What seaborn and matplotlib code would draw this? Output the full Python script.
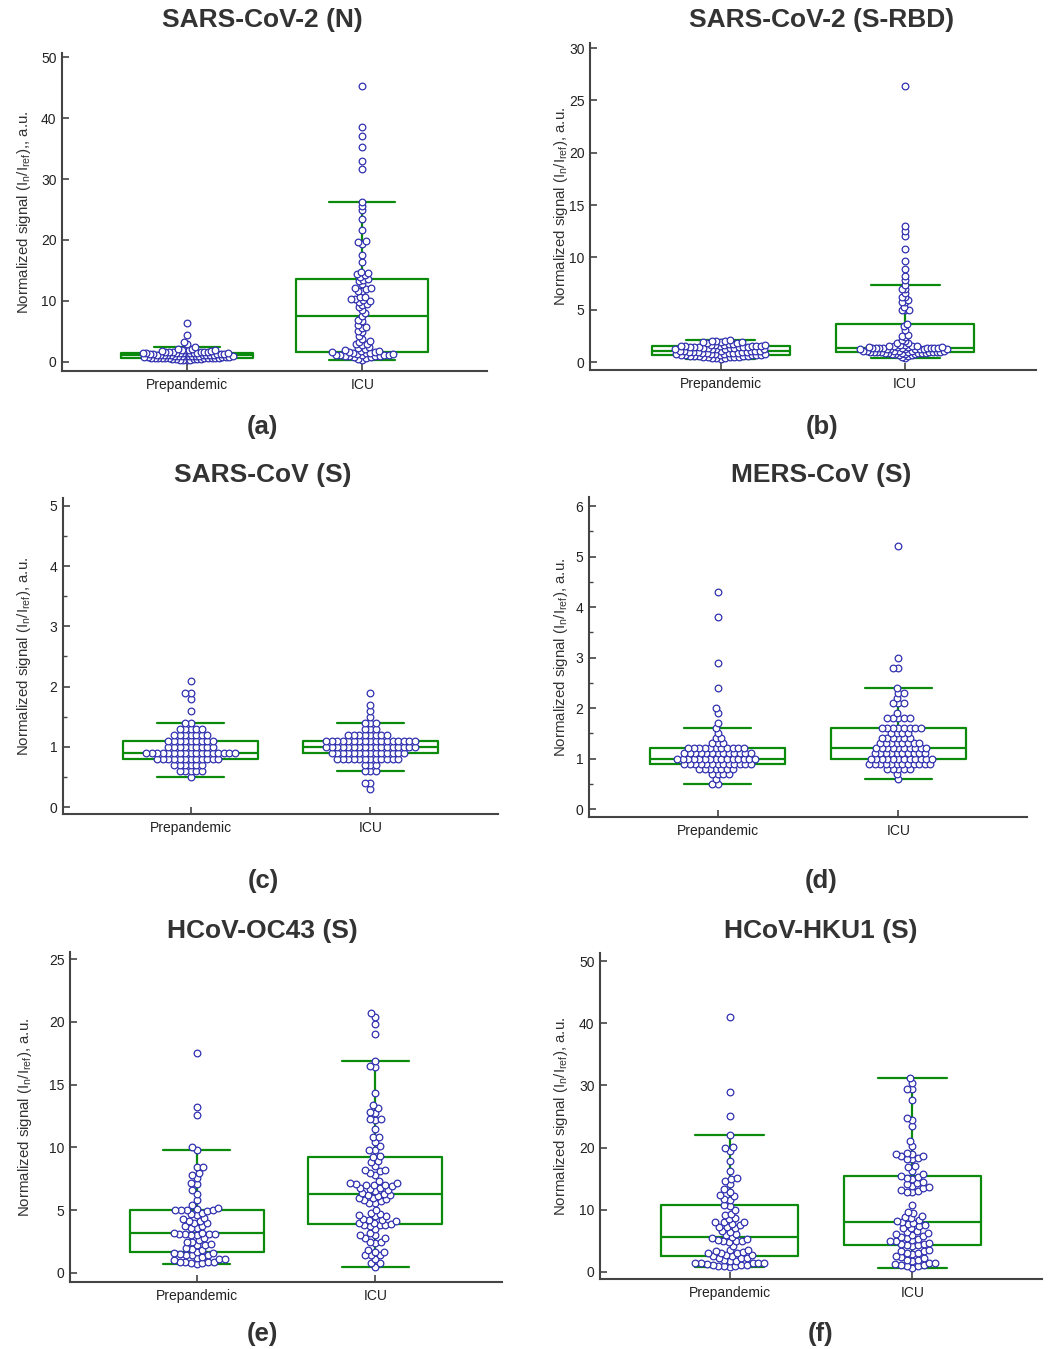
import matplotlib
matplotlib.use("Agg")
import matplotlib.pyplot as plt
import numpy as np
import pandas as pd
import seaborn as sns
from matplotlib.ticker import MultipleLocator

# ---------------- data ----------------
groups = ["Prepandemic", "ICU"]
titles = ["SARS-CoV-2 (N)", "SARS-CoV-2 (S-RBD)", "SARS-CoV (S)",
          "MERS-CoV (S)", "HCoV-OC43 (S)", "HCoV-HKU1 (S)"]
panel_labels = ["(a)", "(b)", "(c)", "(d)", "(e)", "(f)"]
ylabel_a = r"Normalized signal (I$_\mathregular{n}$/I$_\mathregular{ref}$),, a.u."
ylabel = r"Normalized signal (I$_\mathregular{n}$/I$_\mathregular{ref}$), a.u."

a_prep = [0.4, 0.4, 0.4, 0.4, 0.5, 0.5, 0.5, 0.5, 0.5, 0.6, 0.6, 0.6, 0.6, 0.6,
          0.7, 0.7, 0.7, 0.7, 0.7, 0.7, 0.8, 0.8, 0.8, 0.8, 0.8, 0.9, 0.9, 0.9,
          0.9, 1.0, 1.0, 1.0, 1.0, 1.0, 1.1, 1.1, 1.1, 1.1, 1.1, 1.2, 1.2, 1.2,
          1.2, 1.3, 1.3, 1.3, 1.3, 1.3, 1.4, 1.4, 1.4, 1.4, 1.5, 1.5, 1.5, 1.5,
          1.5, 1.5, 1.6, 1.6, 1.6, 1.7, 1.7, 1.7, 1.8, 1.8, 1.9, 1.9, 2.0, 2.0,
          2.1, 2.2, 2.4, 2.9, 3.3, 4.4, 6.4]
a_icu = [0.4, 0.5, 0.7, 0.8, 0.8, 0.9, 1.0, 1.0, 1.0, 1.1, 1.1, 1.2, 1.2, 1.2,
         1.3, 1.3, 1.4, 1.5, 1.5, 1.6, 1.6, 1.7, 1.8, 1.8, 1.9, 2.1, 2.3, 2.4,
         2.8, 2.9, 3.0, 3.3, 3.4, 3.8, 4.2, 4.9, 5.1, 5.6, 5.8, 6.0, 6.8, 6.9,
         7.5, 8.0, 8.6, 9.0, 9.4, 9.5, 9.8, 10.0, 10.1, 10.3, 10.4, 10.6, 10.7,
         11.6, 11.7, 12.0, 12.1, 12.2, 12.8, 13.3, 13.5, 13.6, 14.0, 14.2, 14.5,
         14.6, 14.7, 16.4, 17.6, 19.4, 19.7, 19.9, 21.7, 23.4, 24.9, 25.6, 26.3,
         31.6, 33.0, 35.3, 37.0, 38.5, 45.2]
b_prep = [0.3, 0.4, 0.4, 0.4, 0.5, 0.5, 0.5, 0.5, 0.5, 0.6, 0.6, 0.6, 0.6, 0.6,
          0.7, 0.7, 0.7, 0.7, 0.7, 0.7, 0.8, 0.8, 0.8, 0.8, 0.8, 0.9, 0.9, 0.9,
          0.9, 0.9, 1.0, 1.0, 1.0, 1.0, 1.0, 1.1, 1.1, 1.1, 1.1, 1.1, 1.1, 1.2,
          1.2, 1.2, 1.2, 1.2, 1.3, 1.3, 1.3, 1.3, 1.4, 1.4, 1.4, 1.4, 1.4, 1.4,
          1.5, 1.5, 1.5, 1.5, 1.5, 1.5, 1.6, 1.6, 1.6, 1.6, 1.7, 1.7, 1.8, 1.8,
          1.9, 1.9, 1.9, 2.0, 2.0, 2.0, 2.1]
b_icu = [0.4, 0.5, 0.6, 0.7, 0.7, 0.8, 0.8, 0.8, 0.8, 0.9, 0.9, 0.9, 0.9, 0.9,
         0.9, 1.0, 1.0, 1.0, 1.0, 1.0, 1.0, 1.0, 1.0, 1.0, 1.1, 1.1, 1.1, 1.1,
         1.1, 1.1, 1.2, 1.2, 1.2, 1.2, 1.2, 1.2, 1.2, 1.2, 1.3, 1.3, 1.3, 1.3,
         1.3, 1.3, 1.3, 1.3, 1.3, 1.4, 1.4, 1.4, 1.4, 1.5, 1.5, 1.5, 1.5, 1.6,
         1.6, 1.8, 1.8, 2.0, 2.1, 2.4, 2.5, 2.6, 3.1, 3.4, 3.6, 5.0, 5.0, 5.0,
         5.3, 5.7, 5.7, 5.9, 6.2, 6.2, 6.6, 7.0, 7.0, 7.4, 7.8, 8.2, 8.9, 9.7,
         10.8, 12.0, 12.5, 13.0, 26.4]
c_prep = [0.5, 0.6, 0.6, 0.6, 0.6, 0.6, 0.7, 0.7, 0.7, 0.7, 0.7, 0.7,
          0.8, 0.8, 0.8, 0.8, 0.8, 0.8, 0.8, 0.8, 0.8, 0.8, 0.8, 0.8,
          0.9, 0.9, 0.9, 0.9, 0.9, 0.9, 0.9, 0.9, 0.9, 0.9, 0.9, 0.9, 0.9, 0.9,
          0.9, 0.9, 0.9, 1.0, 1.0, 1.0, 1.0, 1.0, 1.0, 1.0, 1.0, 1.0,
          1.1, 1.1, 1.1, 1.1, 1.1, 1.1, 1.1, 1.1, 1.1, 1.2, 1.2, 1.2, 1.2, 1.2,
          1.2, 1.2, 1.3, 1.3, 1.3, 1.3, 1.3, 1.4, 1.4, 1.6, 1.8, 1.9, 1.9, 2.1]
c_icu = [0.3, 0.4, 0.4, 0.6, 0.6, 0.6, 0.7, 0.7, 0.7,
         0.8, 0.8, 0.8, 0.8, 0.8, 0.8, 0.8, 0.8, 0.8, 0.8, 0.8, 0.8,
         0.9, 0.9, 0.9, 0.9, 0.9, 0.9, 0.9, 0.9, 0.9, 0.9, 0.9, 0.9, 0.9, 0.9,
         1.0, 1.0, 1.0, 1.0, 1.0, 1.0, 1.0, 1.0, 1.0, 1.0, 1.0, 1.0, 1.0, 1.0,
         1.0, 1.0, 1.0, 1.1, 1.1, 1.1, 1.1, 1.1, 1.1, 1.1, 1.1, 1.1, 1.1, 1.1,
         1.1, 1.1, 1.1, 1.1, 1.1, 1.1, 1.2, 1.2, 1.2, 1.2, 1.2, 1.2, 1.2, 1.2,
         1.3, 1.3, 1.3, 1.4, 1.4, 1.4, 1.5, 1.6, 1.7, 1.9]
d_prep = [0.5, 0.5, 0.6, 0.7, 0.7, 0.7, 0.7, 0.8, 0.8, 0.8, 0.8, 0.8, 0.8, 0.8,
          0.9, 0.9, 0.9, 0.9, 0.9, 0.9, 0.9, 0.9, 0.9, 0.9, 0.9, 0.9, 0.9,
          1.0, 1.0, 1.0, 1.0, 1.0, 1.0, 1.0, 1.0, 1.0, 1.0, 1.0, 1.0, 1.0, 1.0,
          1.0, 1.1, 1.1, 1.1, 1.1, 1.1, 1.1, 1.1, 1.1, 1.1, 1.1, 1.1, 1.1, 1.1,
          1.2, 1.2, 1.2, 1.2, 1.2, 1.2, 1.2, 1.2, 1.2, 1.2, 1.2, 1.3, 1.3, 1.3,
          1.4, 1.4, 1.5, 1.6, 1.7, 1.9, 2.0, 2.4, 2.9, 3.8, 4.3]
d_icu = [0.6, 0.7, 0.8, 0.8, 0.8, 0.8, 0.8,
         0.9, 0.9, 0.9, 0.9, 0.9, 0.9, 0.9, 0.9, 0.9, 0.9, 0.9, 0.9,
         1.0, 1.0, 1.0, 1.0, 1.0, 1.0, 1.0, 1.0, 1.0, 1.0, 1.0, 1.0,
         1.1, 1.1, 1.1, 1.1, 1.1, 1.1, 1.1, 1.1, 1.1, 1.1,
         1.2, 1.2, 1.2, 1.2, 1.2, 1.2, 1.2, 1.2, 1.2, 1.2,
         1.3, 1.3, 1.3, 1.3, 1.3, 1.3, 1.3, 1.3, 1.4, 1.4, 1.4, 1.4, 1.4, 1.4,
         1.5, 1.5, 1.5, 1.5, 1.6, 1.6, 1.6, 1.6, 1.6, 1.6, 1.6, 1.6,
         1.8, 1.8, 1.8, 1.8, 1.8, 1.9, 2.1, 2.1, 2.1, 2.2, 2.3, 2.3, 2.4,
         2.8, 2.8, 3.0, 5.2]
e_prep = [0.7, 0.8, 0.8, 0.9, 0.9, 0.9, 0.9, 1.0, 1.1, 1.1, 1.2, 1.3, 1.4, 1.4,
          1.4, 1.5, 1.6, 1.6, 1.7, 1.8, 1.9, 2.0, 2.2, 2.2, 2.3, 2.5, 2.5, 2.6,
          2.8, 3.0, 3.0, 3.1, 3.1, 3.1, 3.1, 3.2, 3.2, 3.6, 3.6, 3.7, 3.7, 4.0,
          4.0, 4.1, 4.1, 4.3, 4.4, 4.6, 4.7, 4.8, 4.9, 5.0, 5.0, 5.0, 5.0, 5.1,
          5.2, 5.4, 5.8, 6.3, 6.6, 7.1, 7.2, 7.6, 7.8, 8.0, 8.4, 8.4, 9.8, 10.0,
          12.6, 13.2, 17.5]
e_icu = [0.5, 0.8, 0.8, 1.1, 1.4, 1.4, 1.4, 1.7, 1.7, 1.8, 2.4, 2.5, 2.5, 2.8,
         2.8, 3.0, 3.0, 3.2, 3.5, 3.7, 3.8, 3.8, 3.8, 3.9, 4.0, 4.0, 4.1, 4.2,
         4.2, 4.3, 4.5, 4.5, 4.6, 4.7, 4.8, 5.0, 5.6, 5.6, 5.7, 5.8, 5.9, 6.0,
         6.0, 6.1, 6.2, 6.2, 6.3, 6.4, 6.5, 6.6, 6.7, 6.8, 6.8, 6.9, 7.0, 7.0,
         7.0, 7.1, 7.2, 7.2, 7.3, 7.8, 8.0, 8.1, 8.2, 8.2, 8.5, 8.8, 8.9, 9.2,
         9.3, 9.8, 9.8, 10.1, 10.4, 10.8, 10.8, 11.5, 12.2, 12.3, 12.3, 12.7,
         12.8, 13.1, 13.4, 14.3, 16.4, 16.5, 16.9, 19.0, 19.8, 20.4, 20.7]
f_prep = [0.8, 0.9, 0.9, 0.9, 1.1, 1.2, 1.2, 1.3, 1.4, 1.4, 1.4, 1.5, 1.5, 1.8,
          1.8, 1.9, 2.2, 2.3, 2.3, 2.5, 2.6, 2.7, 2.7, 3.0, 3.0, 3.1, 3.2, 3.4,
          3.5, 3.6, 4.2, 4.8, 4.9, 5.0, 5.0, 5.2, 5.3, 5.4, 5.6, 5.9, 6.1, 6.5,
          6.6, 7.0, 7.2, 7.3, 7.6, 7.7, 8.0, 8.0, 8.1, 8.5, 8.6, 9.2, 9.4, 10.0,
          10.6, 10.8, 11.6, 11.8, 12.2, 12.4, 12.9, 13.3, 14.1, 14.7, 15.0, 15.1,
          16.3, 17.8, 19.4, 19.9, 20.1, 22.0, 25.0, 29.0, 41.0]
f_icu = [0.7, 1.0, 1.0, 1.1, 1.1, 1.3, 1.5, 1.5, 1.8, 1.9, 2.0, 2.2, 2.4, 2.5,
         2.9, 3.0, 3.1, 3.3, 3.4, 3.5, 4.2, 4.3, 4.4, 4.5, 4.5, 4.7, 4.9, 5.0,
         5.1, 5.3, 5.5, 5.6, 5.8, 6.0, 6.1, 6.2, 6.4, 6.6, 7.0, 7.1, 7.4, 7.6,
         7.7, 7.9, 8.0, 8.2, 8.3, 8.7, 8.8, 9.0, 9.5, 9.6, 10.8, 12.8, 12.9,
         13.0, 13.2, 13.5, 13.6, 13.8, 14.1, 14.3, 14.4, 15.0, 15.1, 15.3, 15.5,
         15.7, 16.2, 16.8, 17.0, 18.1, 18.2, 18.4, 18.6, 18.7, 19.0, 19.0, 19.2,
         20.2, 21.0, 23.4, 24.4, 24.8, 27.6, 29.4, 29.5, 30.4, 31.2]

series = [(a_prep, a_icu), (b_prep, b_icu), (c_prep, c_icu),
          (d_prep, d_icu), (e_prep, e_icu), (f_prep, f_icu)]
yticks = [np.arange(0, 51, 10), np.arange(0, 31, 5), np.arange(0, 6, 1),
          np.arange(0, 7, 1), np.arange(0, 26, 5), np.arange(0, 51, 10)]

# ---------------- style ----------------
sns.set_style("ticks")
plt.rcParams["font.family"] = ["Liberation Sans", "DejaVu Sans"]
plt.rcParams["mathtext.fontset"] = "custom"
plt.rcParams["mathtext.rm"] = "Liberation Sans"

W, H = 1051, 1349
GREEN = "#0c8a0c"
BLUE = "#3030b0"
SPINE = "#444444"
TXT = "#333333"
MARKER_SIZE = 4.8     # drawn marker diameter (points) - circles overlap like the original

# sw = swarm packing size per group (Prepandemic, ICU)
layout = [
    dict(l=62, r=487, t=53, b=371, ylim=(-1.48, 50.66), lx=-0.069, cx=262, ty=20, py=427, minor=None, sw=(1.55, 2.2)),
    dict(l=590, r=1036, t=43, b=370, ylim=(-0.76, 30.48), lx=-0.045, cx=822, ty=20, py=427, minor=None, sw=(2.2, 1.6)),
    dict(l=63, r=498, t=498, b=814, ylim=(-0.116, 5.13), lx=-0.069, cx=263, ty=475, py=881, minor=0.5, sw=(2.9, 2.9)),
    dict(l=589, r=1027, t=497, b=817, ylim=(-0.158, 6.18), lx=-0.044, cx=821, ty=475, py=881, minor=0.5, sw=(2.9, 2.9)),
    dict(l=70, r=502, t=952, b=1282, ylim=(-0.72, 25.56), lx=-0.084, cx=262, ty=931, py=1334, minor=None, sw=(3.1, 3.1)),
    dict(l=600, r=1042, t=953, b=1279, ylim=(-1.13, 51.29), lx=-0.068, cx=821, ty=931, py=1334, minor=None, sw=(3.1, 3.1)),
]

fig = plt.figure(figsize=(W / 100, H / 100), dpi=100)
axes = []

for i, (lay, (prep, icu)) in enumerate(zip(layout, series)):
    ax = fig.add_axes([lay["l"] / W, 1 - lay["b"] / H,
                       (lay["r"] - lay["l"]) / W, (lay["b"] - lay["t"]) / H])
    axes.append(ax)
    df = pd.DataFrame({
        "group": [groups[0]] * len(prep) + [groups[1]] * len(icu),
        "value": list(prep) + list(icu),
    })
    sns.boxplot(data=df, x="group", y="value", order=groups, fill=False,
                color=GREEN, linecolor=GREEN, linewidth=1.6, width=0.75,
                whis=1.5, showfliers=False, ax=ax)
    for g, sw in zip(groups, lay["sw"]):
        sns.swarmplot(data=df[df["group"] == g], x="group", y="value",
                      order=groups, color="white", edgecolor=BLUE,
                      linewidth=0.9, size=sw, ax=ax, zorder=3, warn_thresh=1.0)
    ax.set_xlim(-0.71, 1.71)
    ax.set_ylim(*lay["ylim"])
    ax.set_yticks(yticks[i])
    if lay["minor"]:
        ax.yaxis.set_minor_locator(MultipleLocator(lay["minor"]))
    ax.set_xlabel("")
    ax.set_ylabel(ylabel_a if i == 0 else ylabel, fontsize=10.8, color=TXT)
    ax.yaxis.set_label_coords(lay["lx"], 0.5)
    for s in ["top", "right"]:
        ax.spines[s].set_visible(False)
    for s in ["left", "bottom"]:
        ax.spines[s].set_color(SPINE)
        ax.spines[s].set_linewidth(1.5)
    ax.tick_params(axis="both", which="major", direction="in", length=5,
                   width=1.2, color=SPINE, labelsize=10, labelcolor="#222222")
    ax.tick_params(axis="y", which="minor", direction="in", length=3,
                   width=1.0, color=SPINE)
    ax.tick_params(axis="x", pad=5)
    ax.tick_params(axis="y", pad=4)

    fig.text(lay["cx"] / W, 1 - lay["ty"] / H, titles[i], ha="center",
             va="center", fontsize=19, fontweight="bold", color=TXT)
    fig.text(lay["cx"] / W, 1 - lay["py"] / H, panel_labels[i], ha="center",
             va="center", fontsize=18.5, fontweight="bold", color=TXT)

# let seaborn compute the swarm layout, then keep it and draw slightly
# larger (overlapping) circles like the original figure
fig.canvas.draw()
for ax in axes:
    for coll in ax.collections:
        if "draw" in coll.__dict__:
            del coll.draw
            coll.set_sizes([MARKER_SIZE ** 2])

fig.savefig("out.png", dpi=100)
